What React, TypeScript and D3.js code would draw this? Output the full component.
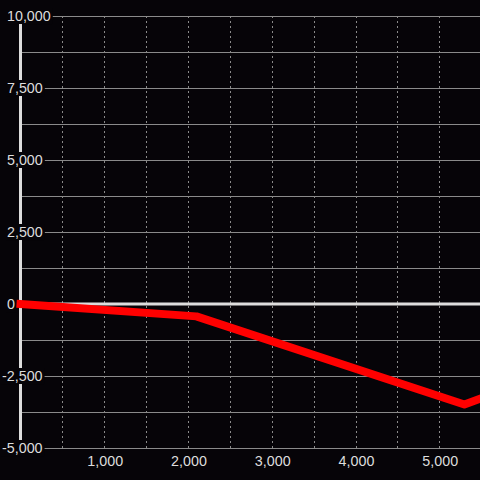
import React, { useEffect, useRef } from "react";
import * as d3 from "d3";

const xValues = [0, 2100, 5300, 5490];
const yValues = [0, -430, -3490, -3290];
const yTicks = [10000, 8750, 7500, 6250, 5000, 3750, 2500, 1250, 0, -1250, -2500, -3750, -5000];
const yLabelTicks = [10000, 7500, 5000, 2500, 0, -2500, -5000];
const xGridTicks = [500, 1000, 1500, 2000, 2500, 3000, 3500, 4000, 4500, 5000];
const xLabelTicks = [1000, 2000, 3000, 4000, 5000];

const W = 480;
const H = 480;
const BG = "#060408";
const GRID = "#8a8a8a";
const AXIS = "#dddddd";
const TEXT = "#dddddd";
const FONT = "'Liberation Sans', Arial, sans-serif";

export default function App() {
  const ref = useRef<SVGSVGElement>(null);
  useEffect(() => {
    const svg = d3.select(ref.current);
    svg.selectAll("*").remove();
    const x = d3.scaleLinear().domain([0, 5490]).range([20.5, 480.3]);
    const y = d3.scaleLinear().domain([-5000, 10000]).range([448, 16]);
    const fmt = (v: number) => d3.format(",")(v).replace("\u2212", "-");

    svg.append("rect").attr("width", W).attr("height", H).attr("fill", BG);

    // horizontal grid
    svg.append("g").selectAll("line").data(yTicks.filter(d => d !== 0)).join("line")
      .attr("x1", x(0)).attr("x2", W)
      .attr("y1", d => Math.round(y(d)) + 0.5).attr("y2", d => Math.round(y(d)) + 0.5)
      .attr("stroke", GRID).attr("stroke-width", 1);

    // vertical dashed grid
    svg.append("g").selectAll("line").data(xGridTicks).join("line")
      .attr("x1", d => Math.round(x(d)) + 0.5).attr("x2", d => Math.round(x(d)) + 0.5)
      .attr("y1", y(10000)).attr("y2", y(-5000))
      .attr("stroke", GRID).attr("stroke-width", 1).attr("stroke-dasharray", "2,3");

    // zero line
    svg.append("line").attr("x1", x(0)).attr("x2", W).attr("y1", y(0)).attr("y2", y(0))
      .attr("stroke", AXIS).attr("stroke-width", 3);

    // y axis line
    svg.append("line").attr("x1", x(0)).attr("x2", x(0)).attr("y1", y(10000)).attr("y2", y(-5000))
      .attr("stroke", AXIS).attr("stroke-width", 3);

    // y labels with background
    const gl = svg.append("g");
    yLabelTicks.forEach(v => {
      const g = gl.append("g");
      const rect = g.append("rect").attr("fill", BG);
      const t = g.append("text")
        .attr("x", v < 0 ? 2 : 7)
        .attr("y", y(v))
        .attr("dy", "0.35em")
        .attr("fill", TEXT)
        .attr("font-family", FONT)
        .attr("font-size", 14.3)
        .text(fmt(v));
      const node = t.node() as SVGTextElement;
      const bb = node.getBBox();
      rect.attr("x", bb.x - 1).attr("y", bb.y).attr("width", bb.width + 3).attr("height", bb.height);
    });

    // x labels
    svg.append("g").selectAll("text").data(xLabelTicks).join("text")
      .attr("x", d => x(d) + 1)
      .attr("y", 461)
      .attr("dy", "0.35em")
      .attr("text-anchor", "middle")
      .attr("fill", TEXT)
      .attr("font-family", FONT)
      .attr("font-size", 14.3)
      .text(d => fmt(d));

    // red line
    const pts = xValues.map((d, i) => [x(d), y(yValues[i])] as [number, number]);
    svg.append("path")
      .attr("d", d3.line()(pts))
      .attr("fill", "none")
      .attr("stroke", "#ff0000")
      .attr("stroke-width", 8)
      .attr("stroke-linejoin", "round")
      .attr("stroke-linecap", "square");
  }, []);
  return (
    <svg ref={ref} width={W} height={H} style={{ position: "fixed", left: 0, top: 0, display: "block" }} />
  );
}
